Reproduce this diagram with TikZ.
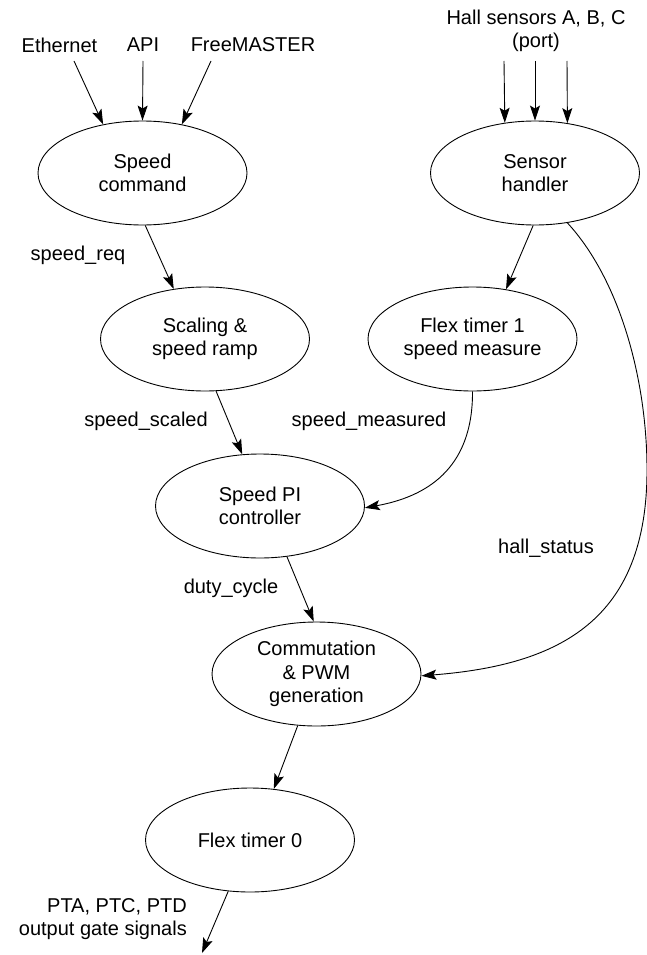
\documentclass[tikz,border=0pt]{standalone}
\usepackage{fontspec}
\setmainfont{Liberation Sans}
\usetikzlibrary{shapes.geometric,arrows.meta}
\begin{document}
\begin{tikzpicture}[x=1pt,y=-1pt,
  txt/.style={font=\fontsize{20}{23.5}\selectfont},
  proc/.style={txt, draw, ellipse, line width=0.9pt, minimum width=209pt, minimum height=104pt, inner sep=0pt, align=center},
  lbl/.style={txt, inner sep=0pt, align=center},
  flow/.style={line width=0.9pt, -{Stealth[length=15pt,width=10pt,inset=3pt]}}]
\useasboundingbox (0,0) rectangle (647,955);

% processes
\node[proc] (cmd)  at (142.5,173) {Speed\\command};
\node[proc] (sens) at (535,173)   {Sensor\\handler};
\node[proc] (scal) at (205,339)   {Scaling \&\\speed ramp};
\node[proc] (ft1)  at (472.5,339) {Flex timer 1\\speed measure};
\node[proc] (pi)   at (260,506)   {Speed PI\\controller};
\node[proc] (comm) at (316.5,674) {Commutation\\\& PWM\\generation};
\node[proc] (ft0)  at (250,840)   {Flex timer 0};

% inputs
\node[lbl] (eth)  at (59.5,45) {Ethernet};
\node[lbl] (api)  at (143,45)  {API};
\node[lbl] (fm)   at (253,45)  {FreeMASTER};
\node[lbl] (hall) at (536,31)  {Hall sensors A, B, C\\(port)};

\coordinate (ethS) at (74,61);
\coordinate (apiS) at (143,61);
\coordinate (fmS)  at (211,61);
\coordinate (hA)   at (504,61);
\coordinate (hB)   at (535,61);
\coordinate (hC)   at (567,61);
\coordinate (outE) at (202,953);

\draw[flow] (ethS) -- (cmd.129.7);
\draw[flow] (apiS) -- (cmd.90);
\draw[flow] (fmS)  -- (cmd.51);
\draw[flow] (hA) -- (sens.121.8);
\draw[flow] (hB) -- (sens.90);
\draw[flow] (hC) -- (sens.57.4);

% flows
\draw[flow] (cmd.-87.2) -- (scal.122.4);
\draw[flow] (scal.-78) -- (pi.109);
\draw[flow] (pi.-62.6) -- (comm.93.8);
\draw[flow] (comm.-110) -- (ft0.65.7);
\draw[flow] (ft0.-113) -- (outE);
\draw[flow] (sens.-92.2) -- (ft1.56);
\draw[flow] (ft1.-90) .. controls (473,470) and (425,497) .. (pi.-1);
\draw[flow] (sens.-57.4) .. controls (620,280) and (647,380) .. (647,470)
   .. controls (647,620) and (560,665) .. (comm.-1);

% edge labels
\node[lbl] (lreq)  at (78,255)  {speed\_req};
\node[lbl] (lsc)   at (146,421) {speed\_scaled};
\node[lbl] (lmeas) at (369,421) {speed\_measured};
\node[lbl] (lduty) at (231,588) {duty\_cycle};
\node[lbl] (lhall) at (546,548) {hall\_status};
\node[lbl, align=right, anchor=east] (lout) at (187,919) {PTA, PTC, PTD\\output gate signals};
\end{tikzpicture}
\end{document}
